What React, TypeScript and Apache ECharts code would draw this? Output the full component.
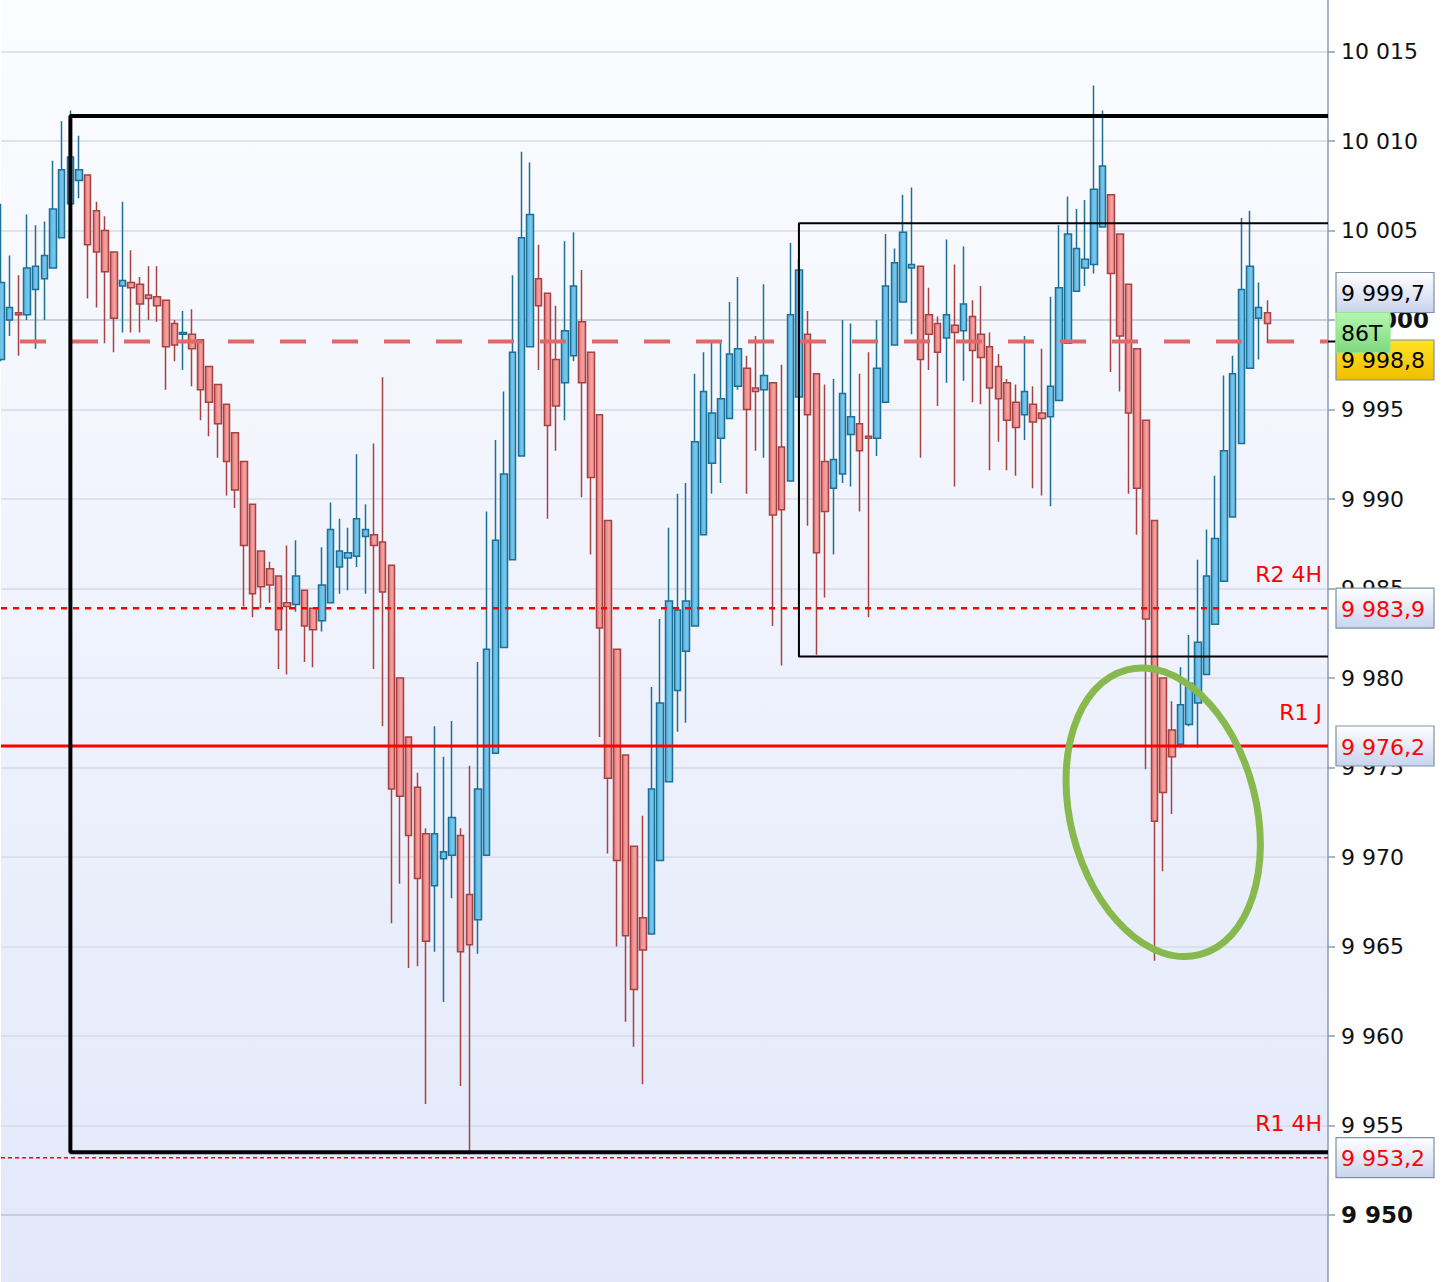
import React, { useEffect, useRef } from "react";
import * as echarts from "echarts";

// ---- candle values (open, close, low, high), one entry per bar ----
const opens = [
  9997.8, 10000.0, 10000.4, 10000.3, 10001.7, 10002.3, 10002.9, 10004.6, 10006.5, 10007.8,
  10008.1, 10006.1, 10005.0, 10003.8, 10001.9, 10002.1, 10002.0, 10001.4, 10001.3, 10001.1,
  9999.8, 9999.2, 9999.2, 9998.9, 9997.4, 9996.4, 9995.3, 9993.7, 9992.1, 9989.7,
  9987.1, 9986.1, 9985.7, 9984.2, 9984.1, 9984.9, 9983.9, 9983.2, 9984.2, 9986.2,
  9986.7, 9986.8, 9987.9, 9988.0, 9987.6, 9986.3, 9980.0, 9976.7, 9973.9, 9971.3,
  9968.4, 9969.9, 9970.1, 9971.2, 9967.9, 9966.5, 9970.1, 9975.8, 9981.7, 9986.6,
  9992.4, 9998.5, 10002.3, 10001.5, 9997.8, 9996.5, 9998.0, 9999.9, 9998.2, 9994.7,
  9988.8, 9981.6, 9975.7, 9970.6, 9966.6, 9965.7, 9969.8, 9974.2, 9979.3, 9981.5,
  9982.9, 9988.0, 9992.0, 9993.4, 9994.5, 9996.3, 9997.3, 9996.2, 9996.1, 9996.5,
  9992.9, 9991.0, 9995.7, 9999.2, 9997.0, 9992.1, 9990.6, 9991.4, 9993.6, 9994.2,
  9993.5, 9993.4, 9995.4, 9998.6, 10001.0, 10002.9, 10003.0, 10000.3, 9999.8, 9999.0,
  9999.7, 9999.4, 10000.2, 9999.2, 9998.5, 9997.4, 9996.5, 9995.4, 9994.7, 9995.3,
  9994.8, 9994.6, 9995.5, 9998.7, 10001.6, 10002.9, 10003.1, 10005.2, 10007.0, 10004.8,
  10002.0, 9998.4, 9994.4, 9988.8, 9980.0, 9977.1, 9976.3, 9977.4, 9978.6, 9980.2,
  9983.0, 9985.4, 9989.0, 9993.1, 9997.3, 10000.1, 10000.4,
];
const closes = [
  10002.1, 10000.7, 10000.3, 10002.9, 10003.0, 10003.6, 10006.2, 10008.4, 10009.1, 10008.4,
  10004.2, 10003.8, 10002.7, 10000.1, 10002.2, 10001.8, 10000.9, 10001.2, 10000.8, 9998.5,
  9998.6, 9999.3, 9998.4, 9996.1, 9995.4, 9994.2, 9992.1, 9990.5, 9987.4, 9984.7,
  9985.1, 9985.2, 9982.7, 9984.0, 9985.7, 9982.9, 9982.7, 9985.2, 9988.3, 9987.1,
  9987.0, 9988.9, 9988.3, 9987.4, 9984.8, 9973.8, 9973.4, 9971.2, 9968.8, 9965.3,
  9971.3, 9970.3, 9972.2, 9964.7, 9965.1, 9973.8, 9981.6, 9987.7, 9991.4, 9998.2,
  10004.6, 10005.9, 10000.8, 9994.1, 9995.2, 9999.4, 10001.9, 9996.5, 9991.2, 9982.8,
  9974.4, 9969.8, 9965.6, 9962.6, 9964.8, 9973.8, 9978.6, 9984.3, 9983.8, 9984.3,
  9993.2, 9996.0, 9994.8, 9995.6, 9998.1, 9998.4, 9995.0, 9996.0, 9996.9, 9989.1,
  9989.4, 10000.3, 10002.8, 9994.7, 9987.0, 9989.3, 9992.2, 9995.9, 9994.6, 9992.7,
  9993.4, 9997.3, 10001.9, 10003.2, 10004.9, 10003.1, 9997.8, 9999.2, 9998.2, 10000.3,
  9999.3, 10000.9, 9998.3, 9997.9, 9996.2, 9995.6, 9994.4, 9994.0, 9996.0, 9994.3,
  9994.5, 9996.3, 10001.8, 10004.8, 10004.0, 10003.4, 10007.3, 10008.6, 10002.6, 9999.1,
  9994.8, 9990.6, 9983.3, 9972.0, 9973.6, 9975.6, 9978.5, 9979.7, 9982.0, 9985.7,
  9987.8, 9992.7, 9997.0, 10001.7, 10003.0, 10000.7, 9999.8,
];
const lows = [
  9997.7, 9999.1, 9998.0, 10000.0, 9998.4, 10000.0, 10002.9, 10004.6, 10006.5, 10006.8,
  10001.2, 10000.7, 9998.7, 9998.2, 9999.3, 9999.3, 9999.3, 10000.0, 9999.9, 9996.1,
  9997.7, 9997.2, 9996.3, 9994.4, 9993.5, 9992.3, 9990.2, 9989.5, 9984.0, 9983.4,
  9983.9, 9984.2, 9980.5, 9980.2, 9983.7, 9980.9, 9980.6, 9982.6, 9984.2, 9984.7,
  9984.9, 9986.2, 9984.7, 9980.5, 9977.3, 9966.3, 9968.5, 9963.8, 9963.9, 9956.2,
  9964.7, 9961.9, 9967.7, 9957.2, 9953.4, 9964.6, 9970.1, 9975.8, 9981.7, 9986.6,
  9992.4, 9998.5, 9997.2, 9988.9, 9992.7, 9994.4, 9997.7, 9990.1, 9986.9, 9976.7,
  9970.2, 9965.0, 9960.8, 9959.4, 9957.3, 9965.7, 9969.8, 9974.2, 9977.0, 9977.5,
  9982.9, 9988.0, 9990.3, 9990.9, 9994.5, 9996.1, 9990.3, 9992.7, 9992.3, 9982.9,
  9980.7, 9991.0, 9995.7, 9988.5, 9981.3, 9984.5, 9986.9, 9990.9, 9990.7, 9989.3,
  9983.4, 9992.4, 9995.4, 9998.6, 10001.0, 9999.2, 9992.3, 9997.2, 9995.2, 9996.5,
  9990.7, 9996.6, 9995.4, 9995.3, 9991.6, 9993.2, 9991.6, 9991.3, 9993.3, 9990.6,
  9990.2, 9989.6, 9995.5, 9998.7, 10001.6, 10001.9, 10002.6, 10005.2, 9997.1, 9996.0,
  9990.3, 9988.0, 9974.9, 9964.2, 9969.2, 9972.4, 9976.1, 9977.3, 9976.1, 9980.2,
  9983.0, 9985.4, 9989.0, 9993.1, 9997.3, 9997.8, 9998.7,
];
const highs = [
  10006.5, 10003.6, 10002.5, 10005.9, 10005.3, 10005.5, 10008.9, 10011.1, 10011.7, 10010.3,
  10008.1, 10006.6, 10005.8, 10003.8, 10006.6, 10003.9, 10002.4, 10003.0, 10003.0, 10001.1,
  10000.0, 10000.5, 10000.6, 9998.9, 9997.4, 9996.4, 9995.3, 9993.7, 9992.1, 9989.7,
  9987.1, 9986.5, 9985.7, 9987.4, 9987.7, 9984.9, 9983.9, 9987.3, 9989.8, 9988.9,
  9988.4, 9992.5, 9989.7, 9993.1, 9996.8, 9986.3, 9980.0, 9976.7, 9974.7, 9971.6,
  9977.3, 9975.6, 9977.6, 9971.6, 9975.1, 9980.9, 9989.3, 9993.3, 9996.0, 10002.5,
  10009.4, 10008.8, 10004.2, 10001.5, 10000.8, 10004.4, 10004.9, 10002.8, 9998.2, 9994.7,
  9988.8, 9981.6, 9975.7, 9970.6, 9972.3, 9979.5, 9983.3, 9988.4, 9990.3, 9990.9,
  9997.0, 9998.2, 9998.8, 9998.8, 10001.0, 10002.4, 9998.0, 9999.1, 10002.0, 9996.5,
  9997.5, 10004.3, 10003.4, 10000.5, 9997.0, 9996.4, 9996.7, 10000.0, 9999.8, 9997.0,
  9998.2, 10000.0, 10004.8, 10004.0, 10007.0, 10007.4, 10003.0, 10001.8, 10000.2, 10004.5,
  10003.1, 10004.1, 10001.1, 10001.9, 9999.3, 9998.1, 9996.7, 9996.4, 9999.1, 9996.3,
  9998.4, 10001.3, 10005.3, 10006.9, 10006.2, 10006.7, 10013.1, 10011.7, 10007.0, 10004.8,
  10002.0, 9998.4, 9994.4, 9988.8, 9980.0, 9978.7, 9980.6, 9982.4, 9986.6, 9988.3,
  9991.3, 9996.9, 9998.0, 10005.7, 10006.1, 10002.1, 10001.1,
];

// ---- axis ----
const SLOT_COUNT = 154; // bars + empty room on the right
const Y_MIN = 9945;
const Y_MAX = 10020;
const Y_STEP = 5;

// ---- levels and annotations (price values) ----
const levelPrevClose = 9998.8;
const levelR2_4H = 9983.9;
const levelR1_J = 9976.2;
const levelR1_4H = 9953.2;
const lastPrice = 9999.7;
const tagCode = "86T";
const levelLabels = [
  { value: levelR2_4H, text: "R2 4H" },
  { value: levelR1_J, text: "R1 J" },
  { value: levelR1_4H, text: "R1 4H" },
];
const bigBox = { start: 8, top: 10011.4, bottom: 9953.5 };
const smallBox = { start: 92, top: 10005.4, bottom: 9981.2 };
const ellipseAt = { index: 134, price: 9972.5 };

const FONT = "DejaVu Sans";

function fmtInt(v: number): string {
  const s = String(Math.round(v));
  return s.length > 3 ? s.slice(0, s.length - 3) + " " + s.slice(s.length - 3) : s;
}
function fmtDec(v: number): string {
  const fixed = v.toFixed(1);
  const [i, d] = fixed.split(".");
  return fmtInt(Number(i)) + "," + d;
}

export default function App() {
  const ref = useRef<HTMLDivElement>(null);

  useEffect(() => {
    if (!ref.current) return;
    const chart = echarts.init(ref.current, undefined, { renderer: "svg" });
    const categories = Array.from({ length: SLOT_COUNT }, (_, i) => String(i));
    const candleData = opens.map((o, i) => [o, closes[i], lows[i], highs[i]]);
    const last = SLOT_COUNT - 1;

    const hLine = (v: number, style: any) => ({
      type: "line",
      data: [
        [0, v],
        [last, v],
      ],
      symbol: "none",
      silent: true,
      z: 6,
      lineStyle: style,
    });

    const splitColors = Array.from({ length: 10 }, (_, i) => (i === 1 ? "#bcc3d3" : "#d6dbe7"));

    const option: any = {
      animation: false,
      backgroundColor: "#ffffff",
      grid: {
        left: 1,
        right: 124,
        top: -38,
        bottom: -22.5,
        outerBoundsMode: "none",
        containLabel: false,
        show: true,
        borderWidth: 0,
        backgroundColor: new echarts.graphic.LinearGradient(0, 0, 0, 1, [
          { offset: 0, color: "#fcfdff" },
          { offset: 1, color: "#e2e8fa" },
        ]),
      },
      xAxis: {
        type: "category",
        data: categories,
        boundaryGap: false,
        show: false,
      },
      yAxis: {
        type: "value",
        position: "right",
        min: Y_MIN,
        max: Y_MAX,
        interval: Y_STEP,
        axisLine: { show: true, lineStyle: { color: "#8a9db0", width: 1.5 } },
        axisTick: { show: true, length: 7, lineStyle: { color: "#8a9db0", width: 1.5 } },
        axisLabel: {
          margin: 13,
          showMinLabel: false,
          showMaxLabel: false,
          formatter: (v: number) => (Math.round(v) % 50 === 0 ? `{b|${fmtInt(v)}}` : `{n|${fmtInt(v)}}`),
          rich: {
            n: { fontSize: 22, color: "#111111", fontFamily: FONT },
            b: { fontSize: 23, fontWeight: "bold", color: "#111111", fontFamily: FONT },
          },
        },
        splitLine: { show: true, lineStyle: { color: splitColors, width: 1.5 } },
      },
      series: [
        {
          type: "candlestick",
          data: candleData,
          barWidth: 7,
          z: 3,
          itemStyle: {
            color: new echarts.graphic.LinearGradient(0, 0, 1, 0, [
              { offset: 0, color: "#52acd9" },
              { offset: 0.55, color: "#78c7ec" },
              { offset: 1, color: "#66bbe3" },
            ]),
            color0: new echarts.graphic.LinearGradient(0, 0, 1, 0, [
              { offset: 0, color: "#e27272" },
              { offset: 0.55, color: "#f4a2a2" },
              { offset: 1, color: "#ec8d8d" },
            ]),
            borderColor: "#1c6f96",
            borderColor0: "#a64242",
            borderWidth: 1.5,
          },
        },
        {
          type: "line",
          data: [
            [last, bigBox.top],
            [bigBox.start, bigBox.top],
            [bigBox.start, bigBox.bottom],
            [last, bigBox.bottom],
          ],
          symbol: "none",
          silent: true,
          z: 7,
          lineStyle: { color: "#000000", width: 4 },
        },
        {
          type: "line",
          data: [
            [last, smallBox.top],
            [smallBox.start, smallBox.top],
            [smallBox.start, smallBox.bottom],
            [last, smallBox.bottom],
          ],
          symbol: "none",
          silent: true,
          z: 7,
          lineStyle: { color: "#000000", width: 2 },
        },
        hLine(levelPrevClose, { color: "#e06868", width: 4, type: [26, 26], dashOffset: 33 }),
        hLine(levelR2_4H, { color: "#ff0000", width: 2.5, type: [6, 6] }),
        hLine(levelR1_J, { color: "#ff0000", width: 3, type: "solid" }),
        hLine(levelR1_4H, { color: "#ff0000", width: 1.5, type: [4, 3] }),
      ],
    };
    chart.setOption(option);

    const yPx = (v: number) => chart.convertToPixel({ yAxisIndex: 0 }, v) as number;
    const xPx = (i: number) => chart.convertToPixel({ xAxisIndex: 0 }, categories[i]) as number;
    const axisX = xPx(last);
    const tagX = axisX + 8;
    const tagW = 98;
    const tagH = 40;

    const lightFill = () =>
      new echarts.graphic.LinearGradient(0, 0, 0, 1, [
        { offset: 0, color: "#ffffff" },
        { offset: 1, color: "#c9d3ee" },
      ]);

    const tag = (top: number, text: string, color: string, fill: any, w = tagW, stroke = "#7d92a2") => ({
      type: "group",
      z: 100,
      children: [
        {
          type: "rect",
          z: 100,
          shape: { x: tagX, y: top, width: w, height: tagH },
          style: { fill, stroke, lineWidth: 1.2 },
        },
        {
          type: "text",
          z: 101,
          x: tagX + 5,
          y: top + tagH / 2 + 1,
          style: {
            text,
            fill: color,
            fontSize: 22,
            fontFamily: FONT,
            align: "left",
            verticalAlign: "middle",
          },
        },
      ],
    });

    const yPrev = yPx(levelPrevClose);
    const graphics: any[] = [];

    // level names
    levelLabels.forEach((l) => {
      graphics.push({
        type: "text",
        z: 90,
        x: axisX - 6,
        y: yPx(l.value) - 34,
        style: {
          text: l.text,
          fill: "#ff0000",
          fontSize: 22,
          fontFamily: FONT,
          align: "right",
          verticalAlign: "middle",
        },
      });
    });

    // green ellipse
    graphics.push({
      type: "ellipse",
      z: 95,
      x: xPx(ellipseAt.index),
      y: yPx(ellipseAt.price),
      rotation: 0.25,
      shape: { cx: 0, cy: 0, rx: 93, ry: 147 },
      style: { fill: "none", stroke: "#88b94e", lineWidth: 7 },
    });

    // axis tags
    graphics.push(tag(yPrev - 69, fmtDec(lastPrice), "#000000", lightFill()));
    graphics.push(
      tag(
        yPrev - 1.5,
        fmtDec(levelPrevClose),
        "#000000",
        new echarts.graphic.LinearGradient(0, 0, 0, 1, [
          { offset: 0, color: "#ffe424" },
          { offset: 1, color: "#f0bd00" },
        ])
      )
    );
    graphics.push(
      tag(
        yPrev - 29,
        tagCode,
        "#000000",
        new echarts.graphic.LinearGradient(0, 0, 0, 1, [
          { offset: 0, color: "#b4f7b0" },
          { offset: 1, color: "#7fd87f" },
        ]),
        54,
        "#93e58f"
      )
    );
    graphics.push({
      type: "line",
      z: 99,
      shape: { x1: axisX, y1: yPrev, x2: tagX, y2: yPrev },
      style: { stroke: "#000000", lineWidth: 2 },
    });
    [levelR2_4H, levelR1_J, levelR1_4H].forEach((v) => {
      graphics.push(tag(yPx(v) - tagH / 2, fmtDec(v), "#ff0000", lightFill()));
    });

    chart.setOption({ graphic: graphics });

    return () => chart.dispose();
  }, []);

  return (
    <div
      ref={ref}
      style={{ position: "fixed", left: 0, top: 0, width: 1452, height: 1282, background: "#ffffff" }}
    />
  );
}
